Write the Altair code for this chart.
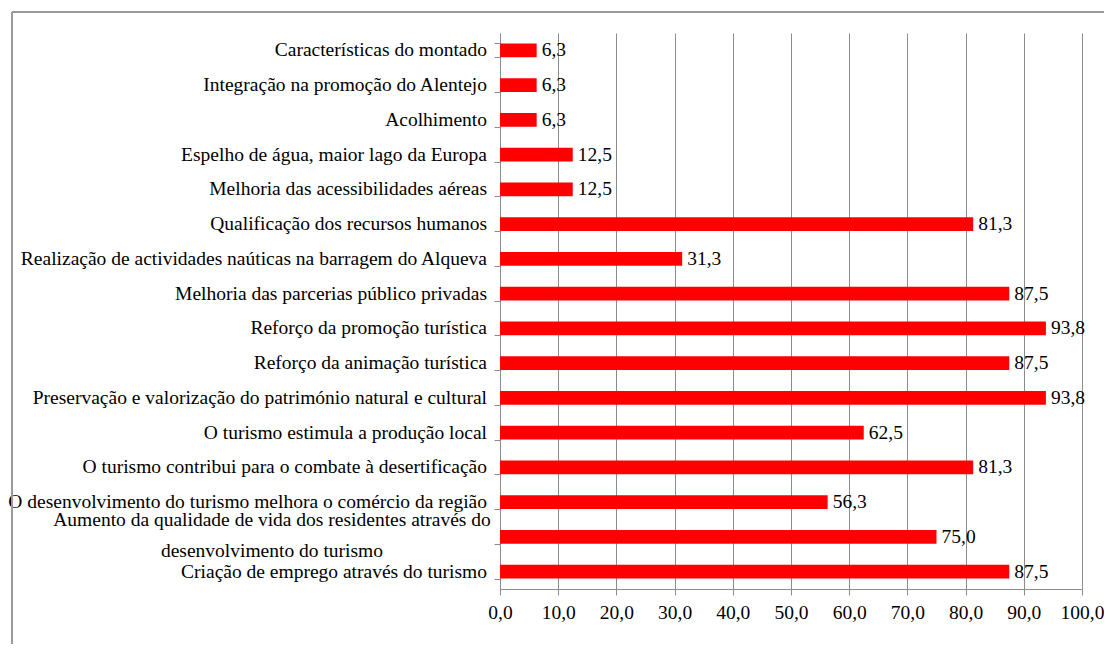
import altair as alt
import pandas as pd

categories = [
    "Características do montado",
    "Integração na promoção do Alentejo",
    "Acolhimento",
    "Espelho de água, maior lago da Europa",
    "Melhoria das acessibilidades aéreas",
    "Qualificação dos recursos humanos",
    "Realização de actividades naúticas na barragem do Alqueva",
    "Melhoria das parcerias público privadas",
    "Reforço da promoção turística",
    "Reforço da animação turística",
    "Preservação e valorização do património natural e cultural",
    "O turismo estimula a produção local",
    "O turismo contribui para o combate à desertificação",
    "O desenvolvimento do turismo melhora o comércio da região",
    "Aumento da qualidade de vida dos residentes através do\ndesenvolvimento do turismo",
    "Criação de emprego através do turismo",
]
values = [6.3, 6.3, 6.3, 12.5, 12.5, 81.3, 31.3, 87.5, 93.8, 87.5, 93.8, 62.5, 81.3, 56.3, 75.0, 87.5]
x_ticks = [0, 10, 20, 30, 40, 50, 60, 70, 80, 90, 100]

df = pd.DataFrame({
    "cat": categories,
    "val": values,
    "lbl": [f"{v:.1f}".replace(".", ",") for v in values],
    "multi": ["\n" in c for c in categories],
})

FONT = "Liberation Serif"
FS = 19.5

y_enc = alt.Y("cat:N", sort=categories, title=None,
              scale=alt.Scale(paddingInner=0.6, paddingOuter=0.3),
              axis=alt.Axis(labels=False, ticks=True, tickBand="extent", tickSize=6,
                            domainColor="#8c8c8c", tickColor="#8c8c8c", grid=False))

x_enc = alt.X("val:Q", title=None,
              scale=alt.Scale(domain=[0, 100], nice=False),
              axis=alt.Axis(values=x_ticks, grid=True, gridColor="#8c8c8c",
                            domainColor="#8c8c8c", tickColor="#8c8c8c", tickSize=6,
                            labelFont=FONT, labelFontSize=FS, labelColor="#000000",
                            labelPadding=8, labelOverlap=False, labelFlush=False,
                            labelExpr="replace(format(datum.value, '.1f'), '.', ',')"))

bars = alt.Chart(df).mark_bar(color="#ff0000").encode(x=x_enc, y=y_enc)

vals = alt.Chart(df).mark_text(align="left", baseline="middle", dx=5, font=FONT,
                               fontSize=FS, color="#000000").encode(
    x="val:Q", y=alt.Y("cat:N", sort=categories), text="lbl:N")

single = alt.Chart(df).transform_filter("!datum.multi").mark_text(
    align="right", baseline="middle", font=FONT, fontSize=FS, color="#000000").encode(
    x=alt.value(-13), y=alt.Y("cat:N", sort=categories), text="cat:N")

multi = alt.Chart(df).transform_filter("datum.multi").mark_text(
    align="center", baseline="middle", font=FONT, fontSize=FS, color="#000000",
    lineBreak="\n", lineHeight=31, dy=-17).encode(
    x=alt.value(-228), y=alt.Y("cat:N", sort=categories), text="cat:N")

frame = alt.Chart(df).mark_rule(color="#9a9a9a", strokeWidth=2).encode(
    x=alt.value(-488), x2=alt.value(700), y=alt.value(-21))
frame_left = alt.Chart(df).mark_rule(color="#9a9a9a", strokeWidth=2).encode(
    x=alt.value(-488), y=alt.value(-21), y2=alt.value(700))

chart = alt.layer(bars, vals, single, multi, frame, frame_left).properties(
    width=582, height=556,
    autosize=alt.AutoSizeParams(type="none"),
    padding={"left": 492, "top": 25, "right": 22, "bottom": 55},
).configure_view(stroke=None)

chart.save("out.html", embed_options={"renderer": "svg", "actions": False})
